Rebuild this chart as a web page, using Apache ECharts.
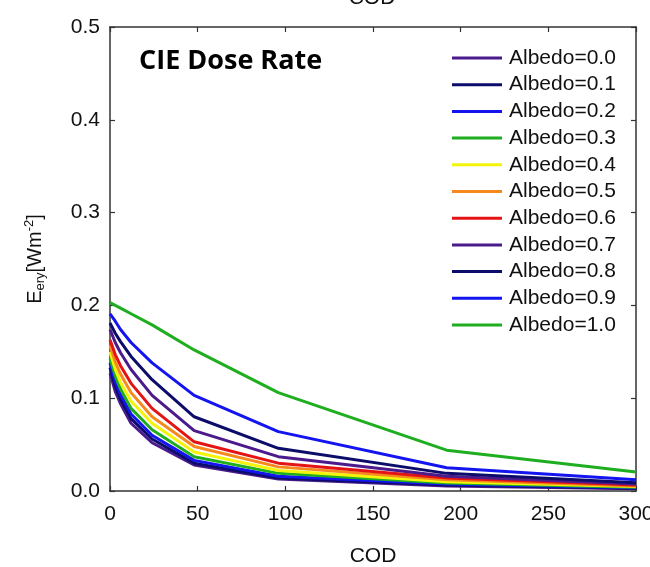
<!DOCTYPE html>
<html>
<head>
<meta charset="utf-8">
<script src="https://cdn.jsdelivr.net/npm/echarts@6/dist/echarts.min.js"></script>
<style>
  html, body { margin: 0; padding: 0; background: #fff; }
  #chart { width: 650px; height: 567px; }
</style>
</head>
<body>
<div id="chart"></div>
<script>
// Cloud optical depth sample points
const cod = [0, 3, 6, 12, 24, 48, 96, 192, 300];

const albedoNames = ['Albedo=0.0', 'Albedo=0.1', 'Albedo=0.2', 'Albedo=0.3', 'Albedo=0.4', 'Albedo=0.5',
                     'Albedo=0.6', 'Albedo=0.7', 'Albedo=0.8', 'Albedo=0.9', 'Albedo=1.0'];

// Erythemal (CIE) dose rate, W m^-2, per surface albedo
const albedo00 = [0.127, 0.107, 0.094, 0.073, 0.052, 0.028, 0.013, 0.0055, 0.0025];
const albedo01 = [0.133, 0.113, 0.099, 0.078, 0.056, 0.030, 0.014, 0.0065, 0.003];
const albedo02 = [0.138, 0.118, 0.104, 0.083, 0.060, 0.033, 0.016, 0.0075, 0.0035];
const albedo03 = [0.143, 0.124, 0.110, 0.089, 0.066, 0.037, 0.019, 0.0085, 0.004];
const albedo04 = [0.150, 0.131, 0.117, 0.097, 0.073, 0.042, 0.022, 0.010, 0.0048];
const albedo05 = [0.157, 0.139, 0.126, 0.106, 0.080, 0.048, 0.026, 0.012, 0.0055];
const albedo06 = [0.163, 0.147, 0.135, 0.116, 0.089, 0.053, 0.030, 0.014, 0.0065];
const albedo07 = [0.174, 0.160, 0.149, 0.131, 0.103, 0.065, 0.037, 0.016, 0.0075];
const albedo08 = [0.181, 0.170, 0.161, 0.145, 0.120, 0.080, 0.046, 0.019, 0.009];
const albedo09 = [0.191, 0.183, 0.174, 0.160, 0.138, 0.103, 0.064, 0.025, 0.012];
const albedo10 = [0.203, 0.200, 0.197, 0.191, 0.179, 0.152, 0.106, 0.044, 0.0205];

const seriesValues = [albedo00, albedo01, albedo02, albedo03, albedo04, albedo05,
                      albedo06, albedo07, albedo08, albedo09, albedo10];

const lineColors = ['#4b1a8c', '#0c0c6a', '#1414f0', '#1fae1f', '#f4f40a', '#f5891e',
                    '#e41414', '#4b1a8c', '#0c0c6a', '#1414f0', '#1fae1f'];

const xTicks = [0, 50, 100, 150, 200, 250, 300];
const yTicks = [0, 0.1, 0.2, 0.3, 0.4, 0.5];

const frameColor = '#333';
const labelFont = 'Liberation Sans, Arial, sans-serif';

const chart = echarts.init(document.getElementById('chart'), null, { renderer: 'canvas' });

const series = seriesValues.map((vals, i) => ({
  name: albedoNames[i],
  type: 'line',
  data: cod.map((c, j) => [c, vals[j]]),
  symbol: 'none',
  lineStyle: { color: lineColors[i], width: 3 },
  itemStyle: { color: lineColors[i] },
  z: 2 + i,
  silent: true
}));

const frameAxisCommon = {
  axisLine: { show: true, onZero: false, lineStyle: { color: frameColor, width: 1.5 } },
  axisTick: { show: true, inside: true, length: 5, lineStyle: { color: frameColor, width: 1.2 } },
  splitLine: { show: false }
};

chart.setOption({
  animation: false,
  backgroundColor: '#fff',
  grid: { left: 110, right: 14, top: 27, bottom: 76, containLabel: false, outerBoundsMode: 'none' },
  title: {
    text: 'CIE Dose Rate',
    left: 134, top: 43,
    textStyle: { fontFamily: 'Open Sans, Lato, sans-serif', fontWeight: 'bold', fontSize: 27, color: '#000' }
  },
  legend: {
    orient: 'vertical',
    left: 447, top: 42,
    icon: 'rect',
    itemWidth: 50, itemHeight: 3,
    itemGap: 4.7,
    data: albedoNames,
    textStyle: { fontFamily: labelFont, fontSize: 21, color: '#111', lineHeight: 22, padding: [0, 0, 0, 2] },
    selectedMode: false
  },
  xAxis: [{
    type: 'value', min: 0, max: 300, interval: 50,
    name: 'COD', nameLocation: 'middle', nameGap: 55,
    nameTextStyle: { fontFamily: labelFont, fontSize: 21, color: '#111' },
    axisLabel: { fontFamily: labelFont, fontSize: 21, color: '#111', margin: 13,
                 formatter: v => (xTicks.indexOf(v) >= 0 ? String(v) : '') },
    ...frameAxisCommon
  }, {
    type: 'value', min: 0, max: 300, interval: 50, position: 'top',
    axisLabel: { show: false },
    ...frameAxisCommon
  }],
  yAxis: [{
    type: 'value', min: 0, max: 0.5, interval: 0.1,
    name: '{e|E}{s|ery}{e|[Wm}{p|-2}{e|]}',
    nameLocation: 'middle', nameGap: 63, nameRotate: 90,
    nameTextStyle: {
      rich: {
        e: { fontFamily: labelFont, fontSize: 20, color: '#111', verticalAlign: 'middle' },
        s: { fontFamily: labelFont, fontSize: 13, color: '#111', padding: [11, 0, 0, 0] },
        p: { fontFamily: labelFont, fontSize: 13, color: '#111', padding: [0, 0, 11, 0] }
      }
    },
    axisLabel: { fontFamily: labelFont, fontSize: 21, color: '#111', margin: 10,
                 formatter: v => (yTicks.some(t => Math.abs(t - v) < 1e-9) ? v.toFixed(1) : '') },
    ...frameAxisCommon
  }, {
    type: 'value', min: 0, max: 0.5, interval: 0.1, position: 'right',
    axisLabel: { show: false },
    ...frameAxisCommon
  }],
  graphic: [{
    type: 'text',
    x: 372, y: 9,
    style: { text: 'COD', font: '21px Liberation Sans, Arial, sans-serif', fill: '#111',
             align: 'center', verticalAlign: 'bottom' },
    silent: true
  }],
  series: series
});
</script>
</body>
</html>
